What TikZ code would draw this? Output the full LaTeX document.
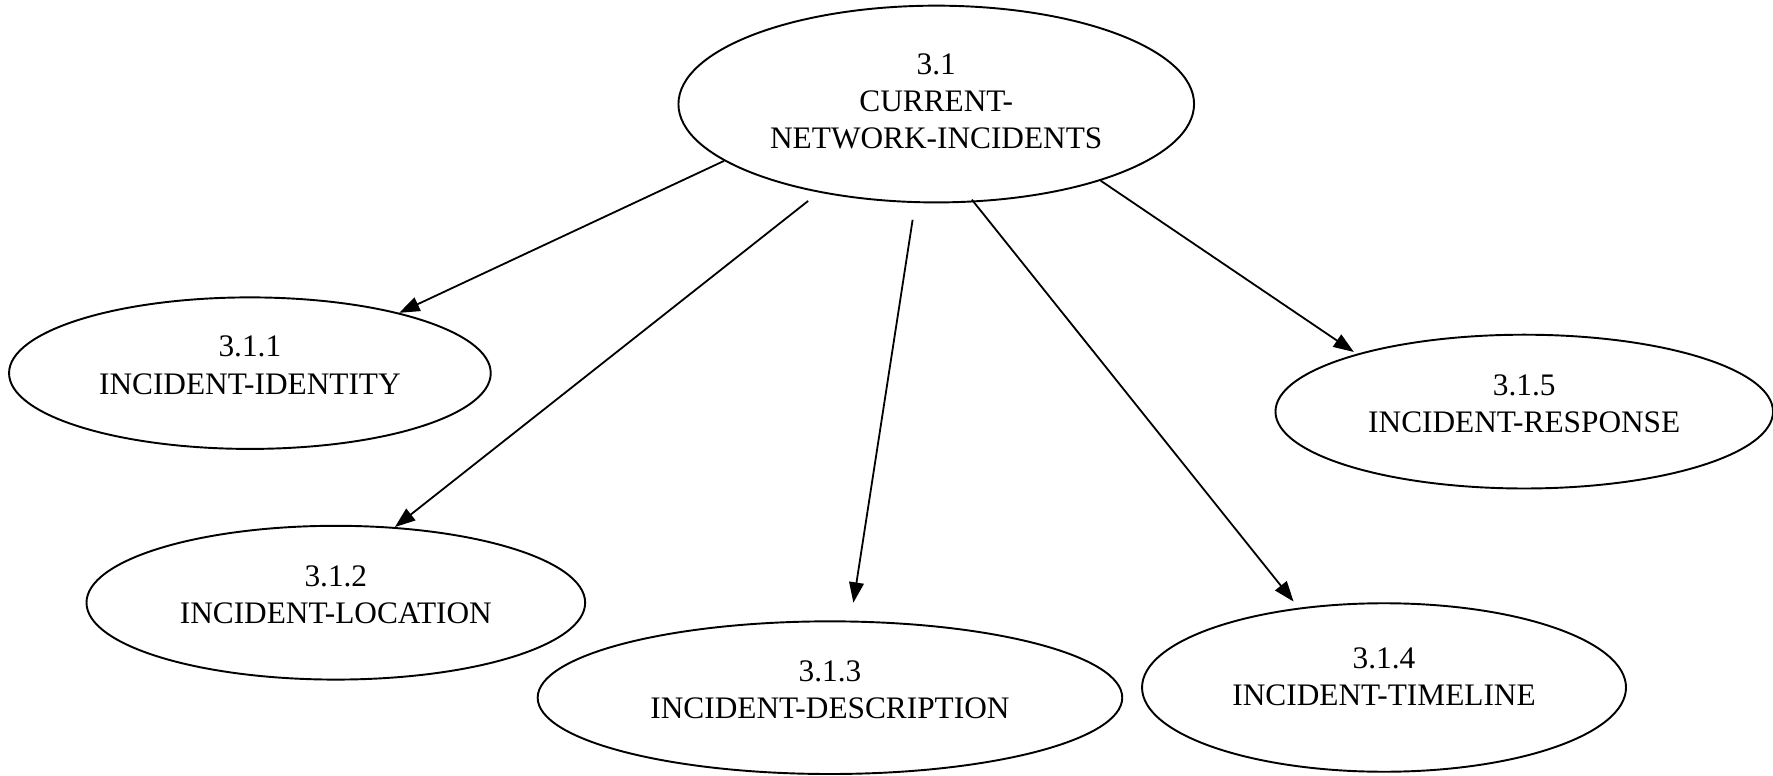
\documentclass[tikz,border=0pt]{standalone}
\usepackage{fontspec}
\setmainfont{Liberation Serif}
\usetikzlibrary{shapes.geometric,arrows.meta}
% extra depth below the last line, so the label sits a little above the centre
\newcommand\lowstrut{\rule[-18.8pt]{0pt}{18.8pt}}
\begin{document}
\begin{tikzpicture}[x=1pt,y=-1pt,
  topic/.style={draw,ellipse,line width=1.7pt,inner sep=0pt,
    font=\fontsize{27.7}{33}\selectfont},
  link/.style={line width=1.6pt,-{Triangle[length=18pt,width=13pt]}}]
\useasboundingbox (0,0) rectangle (1568,686);

% topics
\node[topic,minimum width=456pt,minimum height=174pt] (root) at (828,92)
  {\begin{tabular}{@{}c@{}}3.1\\CURRENT-\\NETWORK-INCIDENTS\end{tabular}};
\node[topic,minimum width=426pt,minimum height=134pt] (c1) at (221,330)
  {\begin{tabular}{@{}c@{}}3.1.1\\INCIDENT-IDENTITY\lowstrut\end{tabular}};
\node[topic,minimum width=441pt,minimum height=136pt] (c2) at (297,533)
  {\begin{tabular}{@{}c@{}}3.1.2\\INCIDENT-LOCATION\lowstrut\end{tabular}};
\node[topic,minimum width=517pt,minimum height=135pt] (c3) at (734,617)
  {\begin{tabular}{@{}c@{}}3.1.3\\INCIDENT-DESCRIPTION\lowstrut\end{tabular}};
\node[topic,minimum width=428pt,minimum height=149pt] (c4) at (1224,608)
  {\begin{tabular}{@{}c@{}}3.1.4\\INCIDENT-TIMELINE\rule[-24pt]{0pt}{24pt}\end{tabular}};
\node[topic,minimum width=440pt,minimum height=136pt] (c5) at (1348,364)
  {\begin{tabular}{@{}c@{}}3.1.5\\INCIDENT-RESPONSE\lowstrut\end{tabular}};

% links from the parent topic
\draw[link] (root.195) -- (c1.22);
\draw[link,shorten <=12pt] (root.217) -- (c2.52);
\draw[link,shorten <=15pt,shorten >=16pt] (root.258) -- (c3.75);
\draw[link,shorten <=-3pt,shorten >=7pt] (root.291) -- (c4.137);
\draw[link,shorten >=3pt] (root.335) -- (c5.161);
\end{tikzpicture}
\end{document}
